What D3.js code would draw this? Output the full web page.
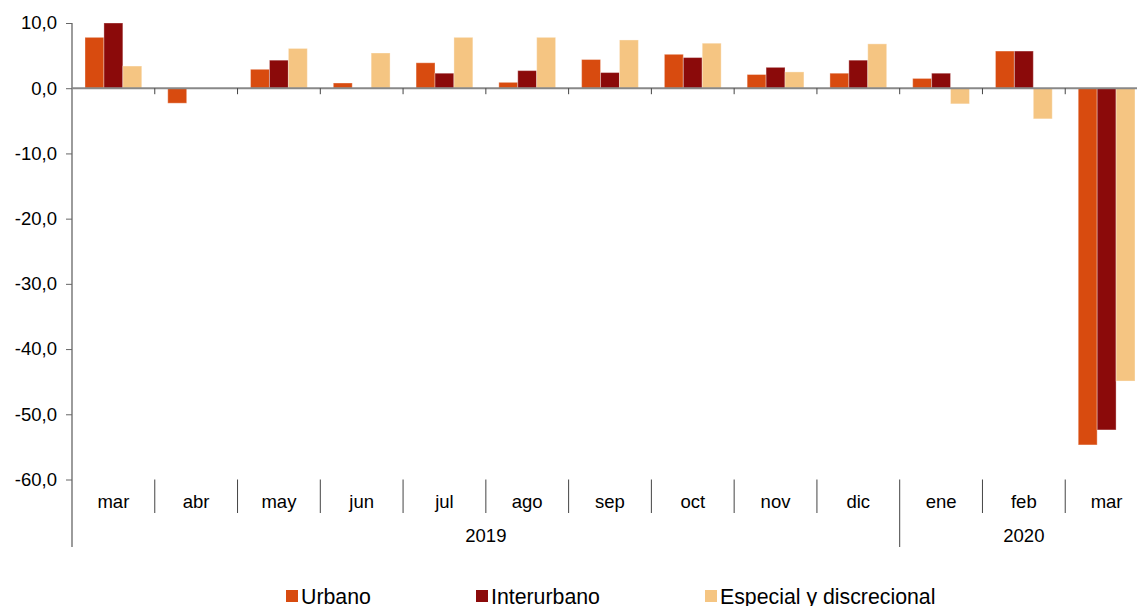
<!DOCTYPE html>
<html><head><meta charset="utf-8">
<script src="https://cdn.jsdelivr.net/npm/d3@7"></script>
<style>body{margin:0;background:#fff;overflow:hidden}svg{display:block;font-family:"Liberation Sans",Arial,sans-serif}</style>
</head><body><svg width="1137" height="606"></svg>
<script>
const months = ["mar","abr","may","jun","jul","ago","sep","oct","nov","dic","ene","feb","mar"];
const years = [{label:"2019", from:0, to:10},{label:"2020", from:10, to:13}];
const seriesNames = ["Urbano","Interurbano","Especial y discrecional"];
const urbano = [7.8,-2.3,2.9,0.8,3.9,0.9,4.4,5.2,2.1,2.3,1.5,5.7,-54.7];
const interurbano = [10.0,0.0,4.3,-0.1,2.3,2.7,2.4,4.7,3.2,4.3,2.3,5.7,-52.4];
const especial = [3.4,0.0,6.1,5.4,7.8,7.8,7.4,6.9,2.5,6.8,-2.4,-4.7,-44.9];
const yTicks = [10,0,-10,-20,-30,-40,-50,-60];
const colors = ["#D84B0F","#8B0A0A","#F5C582"];

(function(){
const svg = d3.select("svg");
const pL = 72, pR = 1148, pT = 23, pB = 479.5;
const FS = 18.5;
const y = d3.scaleLinear().domain([-60,10]).range([pB, pT]);
const x = d3.scaleBand().domain(d3.range(months.length)).range([pL, pR]).paddingInner(0).paddingOuter(0);
const inner = d3.scaleBand().domain([0,1,2]).range([13, x.bandwidth()-13]);
const fmt = v => d3.format(".1f")(v).replace(".", ",").replace("−","-");

const data = [urbano, interurbano, especial];
const g = svg.append("g");
data.forEach((vals, s) => {
  g.selectAll(null).data(vals).enter().append("rect")
    .attr("x", (d,i) => x(i) + inner(s))
    .attr("width", inner.bandwidth())
    .attr("y", d => y(Math.max(0,d)))
    .attr("height", d => Math.abs(y(d) - y(0)))
    .attr("fill", colors[s])
    .attr("stroke", "rgba(255,255,255,0.35)").attr("stroke-width", 1);
});

const yAxis = d3.axisLeft(y).tickValues(yTicks).tickSize(6).tickFormat(fmt);
const ya = svg.append("g").attr("transform", `translate(${pL},0)`).call(yAxis);
ya.select(".domain").remove();
ya.selectAll(".tick line").attr("stroke", "#666");
ya.selectAll(".tick text").attr("font-size", FS).attr("fill", "#000").attr("x", -15).attr("font-family","Liberation Sans, Arial");
svg.append("line").attr("x1", pL).attr("x2", pL).attr("y1", pT).attr("y2", 547).attr("stroke", "#666").attr("stroke-width", 1.3);

svg.append("line").attr("x1", pL).attr("x2", pR).attr("y1", y(0)).attr("y2", y(0)).attr("stroke", "#888").attr("stroke-width", 2);
svg.selectAll(null).data(d3.range(1, months.length)).enter().append("line")
  .attr("x1", i => x(i)).attr("x2", i => x(i)).attr("y1", y(0)).attr("y2", y(0)+6)
  .attr("stroke", "#444").attr("stroke-width", 1);

svg.selectAll(null).data(months).enter().append("text")
  .attr("x", (d,i) => x(i) + x.bandwidth()/2).attr("y", 508)
  .attr("text-anchor", "middle").attr("font-size", FS).attr("fill", "#000").text(d => d);
const yearBounds = new Set(years.map(d => d.from));
svg.selectAll(null).data(d3.range(1, months.length)).enter().append("line")
  .attr("x1", i => x(i)).attr("x2", i => x(i)).attr("y1", pB).attr("y2", i => yearBounds.has(i) ? 547 : 513)
  .attr("stroke", "#444").attr("stroke-width", 1);
svg.selectAll(null).data(years).enter().append("text")
  .attr("x", d => ((d.from < months.length ? x(d.from) : pR) + (d.to < months.length ? x(d.to) : pR))/2)
  .attr("y", 542).attr("text-anchor", "middle").attr("font-size", FS).attr("fill", "#000").text(d => d.label);

const legendX = [286, 476, 705];
const lg = svg.selectAll(null).data(seriesNames).enter().append("g")
  .attr("transform", (d,i) => `translate(${legendX[i]},590)`);
lg.append("rect").attr("width", 12).attr("height", 12).attr("y", 0).attr("fill", (d,i) => colors[i]);
lg.append("text").attr("x", 15).attr("y", 14).attr("font-size", 21.3).attr("fill", "#000").text(d => d);
})();
</script></body></html>
